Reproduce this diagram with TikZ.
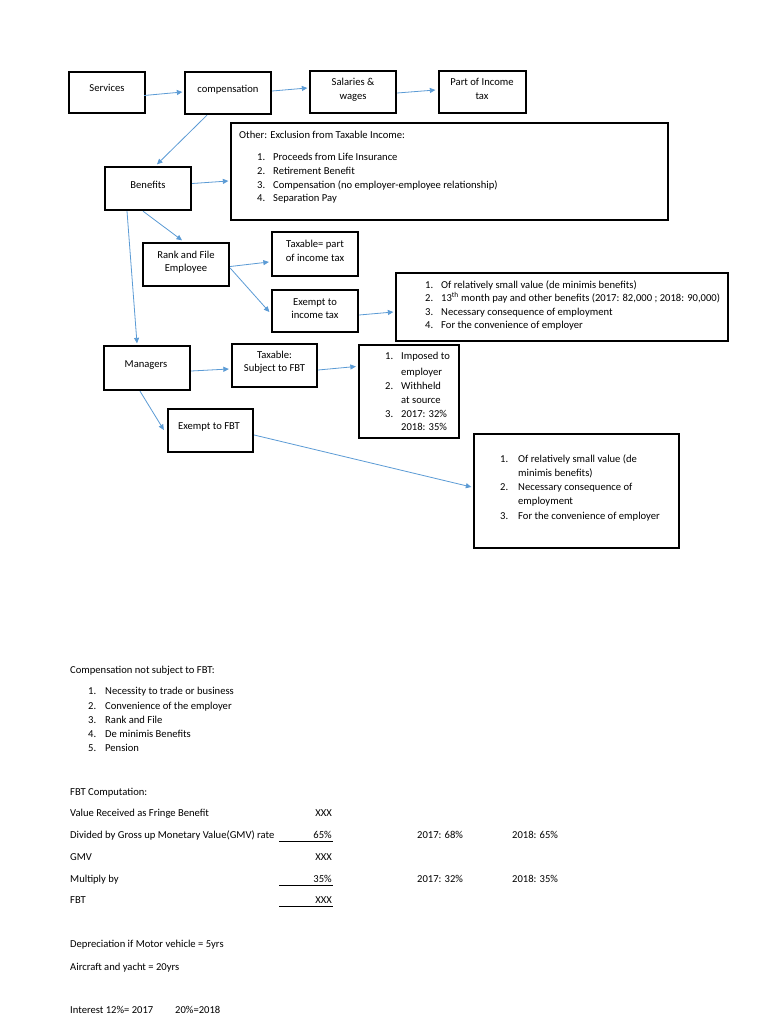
\documentclass[tikz,border=0pt]{standalone}
\usepackage{fontspec}
\setmainfont{Carlito}
\usetikzlibrary{arrows.meta,calc}
\definecolor{arrowblue}{RGB}{91,155,213}
\newcommand{\fsz}{\fontsize{10.6bp}{13bp}\selectfont}
\begin{document}
\begin{tikzpicture}[x=1bp,y=-1bp,
  box/.style={draw=black, line width=2.3bp, inner sep=0pt},
  conn/.style={draw=arrowblue, line width=0.8bp, -{Triangle[length=5.5bp,width=5bp]}},
  tl/.style={inner sep=0pt, anchor=base west, font=\fsz},
  tc/.style={inner sep=0pt, anchor=base, font=\fsz},
  tr/.style={inner sep=0pt, anchor=base east, font=\fsz},
  uline/.style={draw=black, line width=0.6bp}]
\useasboundingbox[fill=white] (0,0) rectangle (768,1024);

% ---------- boxes ----------
\node[box, minimum width=76bp, minimum height=41bp] (services) at (107,92.5) {};
\node[box, minimum width=86bp, minimum height=42bp] (comp) at (228,93) {};
\node[box, minimum width=86bp, minimum height=42bp] (sal) at (353,92) {};
\node[box, minimum width=87bp, minimum height=42bp] (part) at (482.5,92) {};
\node[box, minimum width=437bp, minimum height=97bp] (other) at (449.5,171.5) {};
\node[box, minimum width=86bp, minimum height=43bp] (benefits) at (148,188.5) {};
\node[box, minimum width=86bp, minimum height=43bp] (rank) at (186,264.5) {};
\node[box, minimum width=86bp, minimum height=44bp] (taxable) at (315,254) {};
\node[box, minimum width=86bp, minimum height=42bp] (exempt) at (315,311) {};
\node[box, minimum width=332bp, minimum height=68bp] (listtwo) at (562,307) {};
\node[box, minimum width=86bp, minimum height=44bp] (managers) at (147,368) {};
\node[box, minimum width=85bp, minimum height=43bp] (taxfbt) at (274.5,365.5) {};
\node[box, minimum width=100bp, minimum height=93bp] (imposed) at (409,391.5) {};
\node[box, minimum width=85bp, minimum height=43bp] (exfbt) at (210.5,430.5) {};
\node[box, minimum width=205bp, minimum height=114bp] (final) at (576.5,491) {};

% ---------- box texts ----------
\node[tc] (tServices) at (107,91.5) {Services};
\node[tc] (tComp) at (228,92.5) {compensation};
\node[tc] (tSalA) at (353,85.5) {Salaries \&};
\node[tc] (tSalB) at (353,99.5) {wages};
\node[tc] (tPartA) at (482,85.5) {Part of Income};
\node[tc] (tPartB) at (482,99.5) {tax};
\node[tc] (tBen) at (148,188.5) {Benefits};

\node[tl] (tOther) at (239,138.5) {Other: Exclusion from Taxable Income:};
\node[tl] (oN1) at (257,160.5) {1.};
\node[tl] (oT1) at (273,160.5) {Proceeds from Life Insurance};
\node[tl] (oN2) at (257,174.5) {2.};
\node[tl] (oT2) at (273,174.5) {Retirement Benefit};
\node[tl] (oN3) at (257,188.5) {3.};
\node[tl] (oT3) at (273,188.5) {Compensation (no employer-employee relationship)};
\node[tl] (oN4) at (257,201.5) {4.};
\node[tl] (oT4) at (273,201.5) {Separation Pay};

\node[tc] (tRankA) at (186,258.5) {Rank and File};
\node[tc] (tRankB) at (186,271.5) {Employee};
\node[tc] (tTaxA) at (315,247.5) {Taxable= part};
\node[tc] (tTaxB) at (315,261.5) {of income tax};
\node[tc] (tExA) at (315,305.5) {Exempt to};
\node[tc] (tExB) at (315,318.5) {income tax};

\node[tl] (lN1) at (425,288) {1.};
\node[tl] (lT1) at (441,288) {Of relatively small value (de minimis benefits)};
\node[tl] (lN2) at (425,301) {2.};
\node[tl] (lT2) at (441,301) {13\textsuperscript{th} month pay and other benefits (2017: 82,000 ; 2018: 90,000)};
\node[tl] (lN3) at (425,315) {3.};
\node[tl] (lT3) at (441,315) {Necessary consequence of employment};
\node[tl] (lN4) at (425,328) {4.};
\node[tl] (lT4) at (441,328) {For the convenience of employer};

\node[tc] (tMan) at (146,367.5) {Managers};
\node[tc] (tTfA) at (274.5,358.5) {Taxable:};
\node[tc] (tTfB) at (274.5,371.5) {Subject to FBT};

\node[tl] (iN1) at (385,359.5) {1.};
\node[tl] (iT1) at (401,359.5) {Imposed to};
\node[tl] (iT1b) at (401,375) {employer};
\node[tl] (iN2) at (385,389) {2.};
\node[tl] (iT2) at (401,389) {Withheld};
\node[tl] (iT2b) at (401,403) {at source};
\node[tl] (iN3) at (385,417) {3.};
\node[tl] (iT3) at (401,417) {2017: 32\%};
\node[tl] (iT3b) at (401,430.5) {2018: 35\%};

\node[tc] (tExf) at (209,429.5) {Exempt to FBT};

\node[tl] (fN1) at (500,462.5) {1.};
\node[tl] (fT1) at (518,462.5) {Of relatively small value (de};
\node[tl] (fT1b) at (518,476) {minimis benefits)};
\node[tl] (fN2) at (500,490.5) {2.};
\node[tl] (fT2) at (518,490.5) {Necessary consequence of};
\node[tl] (fT2b) at (518,504.5) {employment};
\node[tl] (fN3) at (500,519) {3.};
\node[tl] (fT3) at (518,519) {For the convenience of employer};

% ---------- connectors ----------
\draw[conn] ($(services.east)+(-2,3)$) -- ($(comp.west)+(-1.5,-1)$);
\draw[conn] ($(comp.east)+(0,-2)$) -- ($(sal.west)+(-1.5,-4)$);
\draw[conn] ($(sal.east)+(0,1)$) -- ($(part.west)+(-2.5,-2)$);
\draw[conn] ($(comp.south)+(-21,0)$) -- ($(benefits.north)+(9,-1.5)$);
\draw[conn] ($(benefits.east)+(0,-5)$) -- ($(other.west)+(-1.5,9.5)$);
\draw[conn] ($(benefits.south)+(-5,0)$) -- ($(rank.north)+(-4,-1.5)$);
\draw[conn] ($(benefits.south)+(-21,0)$) -- ($(managers.north)+(-10,-1.5)$);
\draw[conn] ($(rank.east)+(0,2)$) -- ($(taxable.west)+(-2,8)$);
\draw[conn] ($(rank.east)+(0,3.5)$) -- ($(exempt.west)+(-1.5,1)$);
\draw[conn] ($(exempt.east)+(0,4)$) -- ($(listtwo.west)+(-1.5,5)$);
\draw[conn] ($(managers.east)+(0,3)$) -- ($(taxfbt.west)+(-2,3.5)$);
\draw[conn] ($(taxfbt.east)+(0,4.5)$) -- ($(imposed.west)+(-2,-25)$);
\draw[conn] ($(managers.south)+(-7,0)$) -- ($(exfbt.west)+(-3,-0.5)$);
\draw[conn] ($(exfbt.east)+(0,4.5)$) -- ($(final.west)+(-1.5,-4)$);

% ---------- lower text ----------
\node[tl] (cTitle) at (70,673.5) {Compensation not subject to FBT:};
\node[tl] (cN1) at (88,694.5) {1.};
\node[tl] (cT1) at (105,694.5) {Necessity to trade or business};
\node[tl] (cN2) at (88,709) {2.};
\node[tl] (cT2) at (105,709) {Convenience of the employer};
\node[tl] (cN3) at (88,723) {3.};
\node[tl] (cT3) at (105,723) {Rank and File};
\node[tl] (cN4) at (88,737) {4.};
\node[tl] (cT4) at (105,737) {De minimis Benefits};
\node[tl] (cN5) at (88,751) {5.};
\node[tl] (cT5) at (105,751) {Pension};

\node[tl] (fbtTitle) at (70,795.5) {FBT Computation:};
\node[tl] (r1) at (70,816.5) {Value Received as Fringe Benefit};
\node[tr] (r1v) at (332,816.5) {XXX};
\node[tl] (r2) at (70,838.5) {Divided by Gross up Monetary Value(GMV) rate};
\node[tr] (r2v) at (332,838.5) {65\%};
\node[tl] (r2a) at (417,838.5) {2017: 68\%};
\node[tl] (r2b) at (512,838.5) {2018: 65\%};
\node[tl] (r3) at (70,860.5) {GMV};
\node[tr] (r3v) at (332,860.5) {XXX};
\node[tl] (r4) at (70,882.5) {Multiply by};
\node[tr] (r4v) at (332,882.5) {35\%};
\node[tl] (r4a) at (417,882.5) {2017: 32\%};
\node[tl] (r4b) at (512,882.5) {2018: 35\%};
\node[tl] (r5) at (70,903.5) {FBT};
\node[tr] (r5v) at (332,903.5) {XXX};
\coordinate (u2a) at (279,841);
\coordinate (u2b) at (333,841);
\coordinate (u4a) at (279,885);
\coordinate (u4b) at (333,885);
\coordinate (u5a) at (279,906);
\coordinate (u5b) at (333,906);
\draw[uline] (u2a) -- (u2b);
\draw[uline] (u4a) -- (u4b);
\draw[uline] (u5a) -- (u5b);

\node[tl] (dep) at (70,947) {Depreciation if Motor vehicle = 5yrs};
\node[tl] (air) at (70,970.5) {Aircraft and yacht = 20yrs};
\node[tl] (intA) at (70,1013) {Interest 12\%= 2017};
\node[tl] (intB) at (175,1013) {20\%=2018};
\end{tikzpicture}
\end{document}
